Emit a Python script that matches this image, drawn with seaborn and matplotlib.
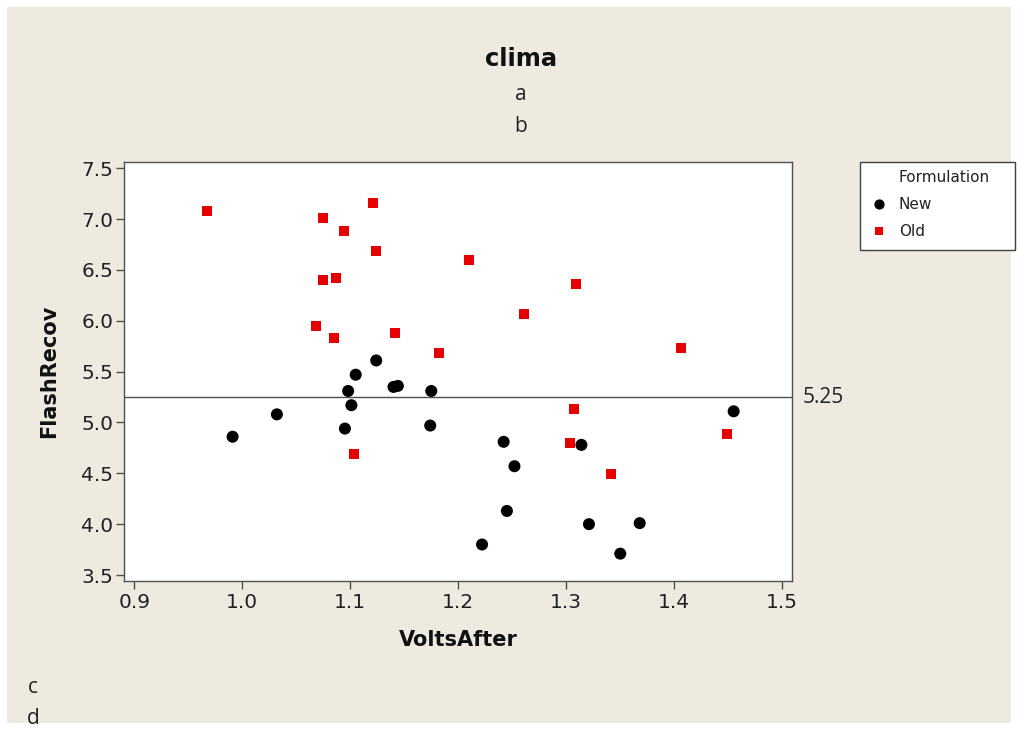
import matplotlib
matplotlib.use("Agg")
import matplotlib.pyplot as plt
import seaborn as sns
import pandas as pd
from matplotlib.patches import Rectangle
from matplotlib.lines import Line2D

# Battery test results: voltage after use vs. flash recovery, by formulation
volts_new = [1.124, 1.105, 1.140, 1.144, 1.098, 1.175, 1.101, 1.032, 0.991, 1.095,
             1.174, 1.455, 1.242, 1.314, 1.252, 1.245, 1.321, 1.368, 1.222, 1.350]
flash_new = [5.61, 5.47, 5.35, 5.36, 5.31, 5.31, 5.17, 5.08, 4.86, 4.94,
             4.97, 5.11, 4.81, 4.78, 4.57, 4.13, 4.00, 4.01, 3.80, 3.71]

volts_old = [0.967, 1.075, 1.094, 1.121, 1.124, 1.075, 1.087, 1.068, 1.085, 1.141,
             1.182, 1.210, 1.309, 1.261, 1.406, 1.307, 1.303, 1.341, 1.449, 1.103]
flash_old = [7.08, 7.01, 6.88, 7.16, 6.69, 6.40, 6.42, 5.95, 5.83, 5.88,
             5.68, 6.60, 6.36, 6.07, 5.73, 5.13, 4.80, 4.49, 4.89, 4.69]

formulations = ["New", "Old"]
reference_value = 5.25
x_ticks = [0.9, 1.0, 1.1, 1.2, 1.3, 1.4, 1.5]
y_ticks = [3.5, 4.0, 4.5, 5.0, 5.5, 6.0, 6.5, 7.0, 7.5]
title_text = "clima"
subtitle_lines = ["a", "b"]
footnote_lines = ["c", "d"]

df = pd.DataFrame({
    "VoltsAfter": volts_new + volts_old,
    "FlashRecov": flash_new + flash_old,
    "Formulation": [formulations[0]] * len(volts_new) + [formulations[1]] * len(volts_old),
})

sns.set_theme(style="white")
plt.rcParams["font.family"] = ["DejaVu Sans"]

W, H = 1018, 730
fig = plt.figure(figsize=(W / 100, H / 100), dpi=100, facecolor="white")

# beige panel behind everything
fig.patches.append(Rectangle((7 / W, 7 / H), 1 - 14 / W, 1 - 14 / H,
                             transform=fig.transFigure, facecolor="#EEEAE0",
                             edgecolor="none", zorder=-10))

ax = fig.add_axes([124.3 / W, 1 - 581 / H, 668 / W, 419.3 / H])
ax.set_facecolor("white")

palette = {"New": "black", "Old": "#E60000"}
markers = {"New": "o", "Old": "s"}
sizes = {"New": 75, "Old": 52}

sns.scatterplot(data=df, x="VoltsAfter", y="FlashRecov", hue="Formulation",
                style="Formulation", size="Formulation", palette=palette,
                markers=markers, sizes=sizes, edgecolor="none", linewidth=0,
                legend=False, ax=ax, zorder=3)

ax.axhline(reference_value, color="#505050", lw=1.0, zorder=2)
ax.text(1.016, reference_value, f"{reference_value:.2f}", transform=ax.get_yaxis_transform(),
        ha="left", va="center", fontsize=15, family="Open Sans", color="#222222")

ax.set_xlim(0.8907, 1.5093)
ax.set_ylim(3.441, 7.565)
ax.set_xticks(x_ticks)
ax.set_yticks(y_ticks)
ax.set_xticklabels([f"{v:.1f}" for v in x_ticks])
ax.set_yticklabels([f"{v:.1f}" for v in y_ticks])
ax.tick_params(axis="both", direction="out", length=5.5, width=1.0, color="#505050",
               labelsize=14.5, labelcolor="#222222", left=True, bottom=True)
ax.tick_params(axis="y", pad=2.5)
ax.tick_params(axis="x", pad=3.5)

for sp in ax.spines.values():
    sp.set_visible(True)
    sp.set_color("#505050")
    sp.set_linewidth(1.0)

ax.set_xlabel("VoltsAfter", fontsize=15, fontweight="bold", color="#111111")
ax.set_ylabel("FlashRecov", fontsize=15, fontweight="bold", color="#111111")
ax.xaxis.label.set_va("center")
ax.yaxis.label.set_va("center")
ax.xaxis.set_label_coords(0.5, (581 - 640) / 419.3)
ax.yaxis.set_label_coords((49 - 124.3) / 668, 0.5)

# titles and footnotes
fig.text(521 / W, 1 - 59 / H, title_text, ha="center", va="center",
         fontsize=17.5, fontweight="bold", color="#111111")
for i, s in enumerate(subtitle_lines):
    fig.text(521 / W, 1 - (100.5 + 31 * i) / H, s, ha="center", va="baseline",
             fontsize=15, family="Open Sans", color="#222222")
for i, s in enumerate(footnote_lines):
    fig.text(33 / W, 1 - (693 + 31 * i) / H, s, ha="center", va="baseline",
             fontsize=15, family="Open Sans", color="#222222")

# legend box with title as first row
fig.patches.append(Rectangle((860 / W, 1 - 250 / H), 155 / W, 88 / H,
                             transform=fig.transFigure, facecolor="white",
                             edgecolor="#404040", lw=1.0, zorder=1))
handles = [Line2D([], [], linestyle="none", marker=None)]
labels = ["Formulation"]
for f in formulations:
    handles.append(Line2D([], [], linestyle="none", marker=markers[f],
                          color=palette[f], markersize=(sizes[f] ** 0.5) * 0.85,
                          markeredgewidth=0))
    labels.append(f)
leg = fig.legend(handles, labels, loc="upper left",
                 bbox_to_anchor=(871.5 / W, 1 - 170 / H), frameon=False,
                 fontsize=11, handlelength=1.0, handletextpad=0.8,
                 labelspacing=0.8, borderpad=0, borderaxespad=0)
for t in leg.get_texts():
    t.set_color("#222222")

fig.savefig("out.png", dpi=100, facecolor="white")
